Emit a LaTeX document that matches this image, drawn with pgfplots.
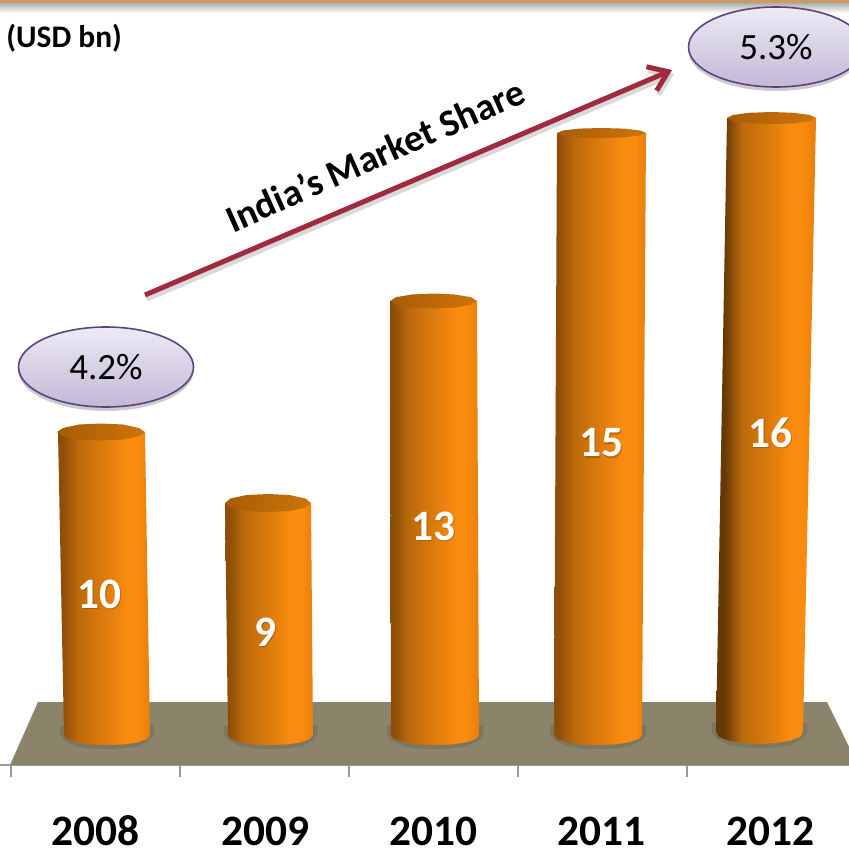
\documentclass[border=0pt]{standalone}
\usepackage{fontspec}
\setmainfont{Carlito}
\usepackage{pgfplots}
\pgfplotsset{compat=1.18}
\usetikzlibrary{arrows.meta,shapes.geometric,shadows}

\definecolor{floorcol}{HTML}{8C846A}
\definecolor{arrowcol}{HTML}{A02B3C}
\definecolor{ovalline}{HTML}{5B4380}
\definecolor{ovaltop}{HTML}{EDEAF4}
\definecolor{ovalbot}{HTML}{C2B9D6}
\definecolor{band}{HTML}{C99B62}
\definecolor{capL}{HTML}{A85C05}
\definecolor{capR}{HTML}{CC740A}
\definecolor{cylA}{HTML}{653805}
\definecolor{cylA2}{HTML}{8C4E08}
\definecolor{cylB}{HTML}{BC6A0B}
\definecolor{cylC}{HTML}{D8790C}
\definecolor{cylD}{HTML}{F98B0F}
\definecolor{cylE}{HTML}{E67F0B}

% cylinder body, dark on the left, brightest right of the middle
\pgfdeclarehorizontalshading{cyl}{100bp}{
  color(0bp)=(cylA); color(25bp)=(cylA); color(29bp)=(cylA);
  color(38bp)=(cylB); color(50bp)=(cylC);
  color(62bp)=(cylD); color(69bp)=(cylD);
  color(75bp)=(cylE); color(100bp)=(cylE)}
\pgfdeclarehorizontalshading{cyllight}{100bp}{
  color(0bp)=(cylA2); color(25bp)=(cylA2); color(27bp)=(cylA2);
  color(36bp)=(cylB); color(48bp)=(cylC);
  color(62bp)=(cylD); color(69bp)=(cylD);
  color(75bp)=(cylE); color(100bp)=(cylE)}

\begin{document}
\begin{tikzpicture}
  \path[use as bounding box,clip] (0,-41.5pt) rectangle (424.5pt,382.5pt);
  \begin{axis}[
      scale only axis,
      at={(0,0)}, anchor=south west,
      width=424.5pt, height=382.5pt,
      xmin=0, xmax=849, ymin=0, ymax=765,
      enlargelimits=false,
      axis x line=bottom, axis y line=none,
      axis line style={-,draw=gray!80,line width=0.8pt},
      xtick={95,265,433,601,770},
      xticklabels={2008,2009,2010,2011,2012},
      minor xtick={11,180,349,518,687},
      tick align=outside,
      major tick length=0pt, minor tick length=6pt,
      minor tick style={draw=gray!80,line width=0.8pt},
      xticklabel style={inner sep=0pt,text height=13.5pt,text depth=0pt,yshift=-26.5pt,
        font=\fontsize{21.7}{26}\selectfont\bfseries},
    ]
    % top band and its shadow
    \addplot[draw=none,top color=gray!70,bottom color=white] coordinates {(0,752)(849,752)(849,763)(0,763)} -- cycle;
    \addplot[draw=none,fill=band] coordinates {(0,762)(849,762)(849,765)(0,765)} -- cycle;

    % floor
    \addplot[draw=none,fill=floorcol] coordinates {(38,63)(827,63)(858,0)(10,0)} -- cycle;

    % soft shadows at the feet of the bars
    \addplot[draw=none,fill=black,fill opacity=0.1] coordinates {(60,40)(60,30)(64,25)(75,19)(90,16.5)(107,16)(124,16.5)(139,19)(150,25)(154,30)(154,40)} -- cycle;
    \addplot[draw=none,fill=black,fill opacity=0.1] coordinates {(224,40)(224,30)(228,25)(239,19)(254,16.5)(270.5,16)(288,16.5)(303,19)(313,25)(317,30)(317,40)} -- cycle;
    \addplot[draw=none,fill=black,fill opacity=0.1] coordinates {(387,40)(387,30)(391,25)(403,19)(418,16.5)(435,16)(452,16.5)(467,19)(479,25)(483,30)(483,40)} -- cycle;
    \addplot[draw=none,fill=black,fill opacity=0.1] coordinates {(550,40)(550,30)(554,25)(566,19)(581,16.5)(598,16)(615,16.5)(630,19)(642,25)(646,30)(646,40)} -- cycle;
    \addplot[draw=none,fill=black,fill opacity=0.1] coordinates {(712,42)(712,32)(716,27)(728,20)(743,17.5)(759.5,17)(776,17.5)(791,20)(803,27)(807,32)(807,42)} -- cycle;

    % bars: body outlines
    \addplot[draw=none,shade,shading=cyllight] coordinates {(58,333)(64,30)(67,26)(77,22.5)(91,20.5)(107,20)(123,20.5)(137,22.5)(147,26)(150,30)(145,333)} -- cycle;
    \addplot[draw=none,shade,shading=cyllight] coordinates {(225,262)(228,30)(231,26)(241,22.5)(255,20.5)(270.5,20)(286,20.5)(300,22.5)(310,26)(313,30)(311,262)} -- cycle;
    \addplot[draw=none,shade,shading=cyllight] coordinates {(390,464)(391,30)(394,26)(405,22.5)(419,20.5)(435,20)(451,20.5)(465,22.5)(476,26)(479,30)(477,464)} -- cycle;
    \addplot[draw=none,shade,shading=cyllight] coordinates {(557,632)(554,30)(557,26)(568,22.5)(582,20.5)(598,20)(614,20.5)(628,22.5)(639,26)(642,30)(646,632)} -- cycle;
    \addplot[draw=none,shade,shading=cyl] coordinates {(727,647)(716,33)(719,28)(730,24)(744,22)(759.5,21)(775,22)(789,24)(800,28)(803,33)(816,647)} -- cycle;

    % top faces
    \addplot[draw=none,left color=capL,right color=capR] coordinates {(145,333)(139,337)(123,340.5)(101,341.5)(79,340.5)(63,337)(57,333)(63,329)(79,325.5)(101,324.5)(123,325.5)(139,329)} -- cycle;
    \addplot[draw=none,left color=capL,right color=capR] coordinates {(311,262)(305.5,266.5)(289.5,270)(268,271)(246.5,270)(230.5,266.5)(225,262)(230.5,257.5)(246.5,254)(268,253)(289.5,254)(305.5,257.5)} -- cycle;
    \addplot[draw=none,left color=capL,right color=capR] coordinates {(477,464)(471,467.8)(455,470.5)(433.5,471.5)(412,470.5)(396,467.8)(390,464)(396,460.2)(412,457.5)(433.5,456.5)(455,457.5)(471,460.2)} -- cycle;
    \addplot[draw=none,left color=capL,right color=capR] coordinates {(646,632)(640,634.5)(624,636.4)(601.5,637)(579,636.4)(563,634.5)(557,632)(563,629.5)(579,627.6)(601.5,627)(624,627.6)(640,629.5)} -- cycle;
    \addplot[draw=none,left color=capL,right color=capR] coordinates {(816,647)(810,650)(793.7,652.2)(771.5,653)(749.2,652.2)(732.8,650)(727,647)(732.8,644)(749.2,641.8)(771.5,641)(793.7,641.8)(810,644)} -- cycle;

    % value labels, shadow first
    \addplot[only marks,mark=none,nodes near coords,point meta=explicit symbolic,
      every node near coord/.append style={anchor=center,xshift=0.6pt,yshift=-0.6pt,text=black!70!orange,opacity=0.3,font=\fontsize{21.7}{26}\selectfont\bfseries}]
      coordinates {(99,171)[10] (265,133)[9] (433,239)[13] (601,322)[15] (770,332)[16]};
    \addplot[only marks,mark=none,nodes near coords,point meta=explicit symbolic,
      every node near coord/.append style={anchor=center,text=white,font=\fontsize{21.7}{26}\selectfont\bfseries}]
      coordinates {(99,171)[10] (265,133)[9] (433,239)[13] (601,322)[15] (770,332)[16]};

    % market share arrow
    \addplot[draw=gray,opacity=0.3,line width=2.5pt,-{Straight Barb[length=9pt,width=13pt]}] coordinates {(147,466)(674,691)};
    \addplot[draw=arrowcol,line width=2.5pt,-{Straight Barb[length=9pt,width=13pt]}] coordinates {(145,470)(672,695)};

    \node[rotate=24,font=\fontsize{19}{23}\selectfont\bfseries] at (axis cs:375,610) {India’s Market Share};

    \node[anchor=west,inner sep=0pt,font=\fontsize{15.7}{19}\selectfont\bfseries] at (axis cs:6,727) {(USD bn)};

    \node[ellipse,draw=ovalline,line width=0.8pt,top color=ovaltop,bottom color=ovalbot,inner sep=0pt,
      minimum width=87.5pt,minimum height=40pt,drop shadow={shadow xshift=0pt,shadow yshift=-2pt,opacity=0.4},
      font=\fontsize{18.5}{22}\selectfont] at (axis cs:106,398) {4.2\%};
    \node[ellipse,draw=ovalline,line width=0.8pt,top color=ovaltop,bottom color=ovalbot,inner sep=0pt,
      minimum width=87.5pt,minimum height=40pt,drop shadow={shadow xshift=0pt,shadow yshift=-2pt,opacity=0.4},
      font=\fontsize{18.5}{22}\selectfont] at (axis cs:776,718) {5.3\%};
  \end{axis}
\end{tikzpicture}
\end{document}
